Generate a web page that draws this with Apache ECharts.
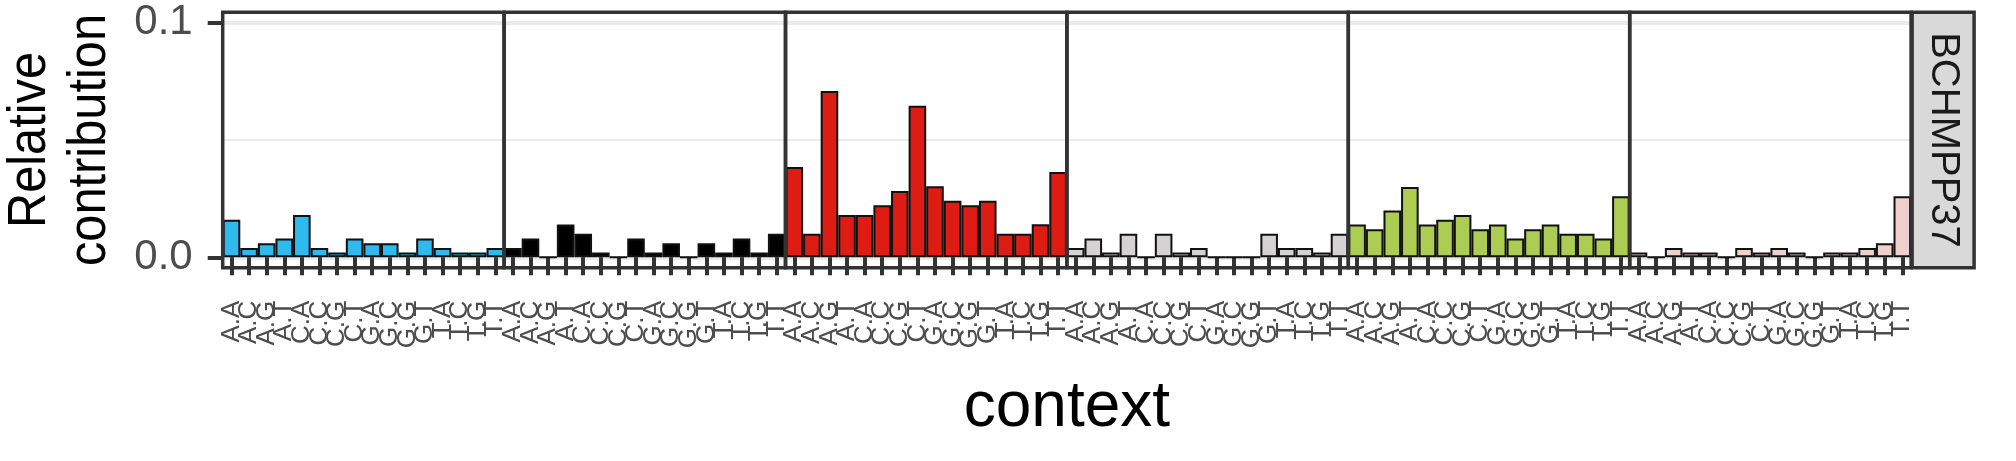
<!DOCTYPE html>
<html>
<head>
<meta charset="utf-8">
<script src="https://cdn.jsdelivr.net/npm/echarts@6/dist/echarts.min.js"></script>
<style>
  html, body { margin: 0; padding: 0; background: #fff; }
  #chart { width: 2016px; height: 461px; }
</style>
</head>
<body>
<div id="chart"></div>
<script>
// trinucleotide context (5' base . 3' base), same for every substitution panel
const contexts = ['A.A', 'A.C', 'A.G', 'A.T', 'C.A', 'C.C', 'C.G', 'C.T',
  'G.A', 'G.C', 'G.G', 'G.T', 'T.A', 'T.C', 'T.G', 'T.T']
const sampleName = 'BCHMPP37'
const yTicks = [0, 0.1]

// relative contribution per substitution type
const caValues = [0.016, 0.004, 0.006, 0.008, 0.018, 0.004, 0.002, 0.008, 0.006, 0.006, 0.002, 0.008, 0.004, 0.002, 0.002, 0.004]
const cgValues = [0.004, 0.008, 0, 0.014, 0.010, 0.002, 0, 0.008, 0.002, 0.006, 0, 0.006, 0.002, 0.008, 0.002, 0.010]
const ctValues = [0.0385, 0.010, 0.0709, 0.018, 0.018, 0.0222, 0.0283, 0.0646, 0.0303, 0.0241, 0.0222, 0.0241, 0.010, 0.010, 0.0141, 0.0364]
const taValues = [0.004, 0.008, 0.002, 0.010, 0, 0.010, 0.002, 0.004, 0, 0, 0, 0.010, 0.004, 0.004, 0.002, 0.010]
const tcValues = [0.014, 0.012, 0.020, 0.030, 0.014, 0.016, 0.018, 0.012, 0.014, 0.008, 0.012, 0.014, 0.010, 0.010, 0.008, 0.026]
const tgValues = [0.002, 0, 0.004, 0.002, 0.002, 0, 0.004, 0.002, 0.004, 0.002, 0, 0.002, 0.002, 0.004, 0.006, 0.026]

const panelValues = [caValues, cgValues, ctValues, taValues, tcValues, tgValues]
const panelColors = ['#2EBAED', '#000000', '#DE1C14', '#D4D2D2', '#ADCC54', '#F0D0CE']

// layout (px)
const panelLeft = 222.7
const panelW = 281.4
const gridTop = 22.7      // y of 0.1
const gridBottom = 257.3  // y of 0.0
const boxTop = 12.3
const boxBottom = 267.7
const stripW = 62
const font = '"Liberation Sans", Arial, Helvetica, sans-serif'

let chart = echarts.init(document.getElementById('chart'), null, { renderer: 'canvas' })

let grids = [], xAxes = [], yAxes = [], series = [], graphics = []
panelValues.forEach((vals, i) => {
  let left = panelLeft + i * panelW
  grids.push({ left: left, width: panelW, top: gridTop, height: gridBottom - gridTop })
  xAxes.push({
    type: 'category',
    gridIndex: i,
    data: contexts,
    offset: boxBottom - gridBottom,
    axisLine: { show: false },
    axisTick: { show: true, alignWithLabel: true, interval: 0, length: 18, lineStyle: { color: '#333', width: 4 } },
    axisLabel: { interval: 0, rotate: 90, fontSize: 26, color: '#4D4D4D', fontFamily: font, margin: 33 },
    splitLine: { show: false }
  })
  yAxes.push({
    type: 'value',
    gridIndex: i,
    min: yTicks[0],
    max: yTicks[1],
    interval: yTicks[1] - yTicks[0],
    axisLine: { show: false },
    axisTick: { show: i === 0, length: 15, lineStyle: { color: '#333', width: 4 } },
    axisLabel: {
      show: i === 0, fontSize: 42, color: '#4D4D4D', fontFamily: font, margin: 30,
      formatter: v => v.toFixed(1)
    },
    splitLine: { show: true, lineStyle: { color: '#EBEBEB', width: 4 } },
    minorTick: { show: false, splitNumber: 2 },
    minorSplitLine: { show: true, lineStyle: { color: '#EBEBEB', width: 2 } }
  })
  series.push({
    type: 'bar',
    xAxisIndex: i,
    yAxisIndex: i,
    data: vals,
    barCategoryGap: 0,
    silent: true,
    itemStyle: { color: panelColors[i], borderColor: '#111', borderWidth: 2 }
  })
  // panel border
  graphics.push({
    type: 'rect', z: 100, silent: true,
    shape: { x: left, y: boxTop, width: panelW, height: boxBottom - boxTop },
    style: { fill: 'none', stroke: '#333', lineWidth: 3.5 }
  })
})

// facet strip on the right
let stripLeft = panelLeft + 6 * panelW + 1
graphics.push({
  type: 'rect', z: 100, silent: true,
  shape: { x: stripLeft, y: boxTop, width: stripW, height: boxBottom - boxTop },
  style: { fill: '#D9D9D9', stroke: '#333', lineWidth: 3.5 }
})
graphics.push({
  type: 'text', z: 101, silent: true,
  x: stripLeft + stripW / 2, y: (boxTop + boxBottom) / 2, rotation: -Math.PI / 2,
  style: { text: sampleName, fontSize: 40, fontFamily: font, fill: '#1A1A1A', align: 'center', verticalAlign: 'middle' }
})
// axis titles
graphics.push({
  type: 'text', z: 101, silent: true,
  x: 60, y: 140, rotation: Math.PI / 2, scaleX: 0.92,
  style: { text: 'Relative\ncontribution', fontSize: 53, lineHeight: 60, fontFamily: font, fill: '#000', align: 'center', verticalAlign: 'middle' }
})
graphics.push({
  type: 'text', z: 101, silent: true,
  x: panelLeft + 3 * panelW, y: 408,
  style: { text: 'context', fontSize: 64, fontFamily: font, fill: '#000', align: 'center', verticalAlign: 'middle' }
})

chart.setOption({
  animation: false,
  backgroundColor: '#fff',
  grid: grids,
  xAxis: xAxes,
  yAxis: yAxes,
  series: series,
  graphic: graphics
})
</script>
</body>
</html>
